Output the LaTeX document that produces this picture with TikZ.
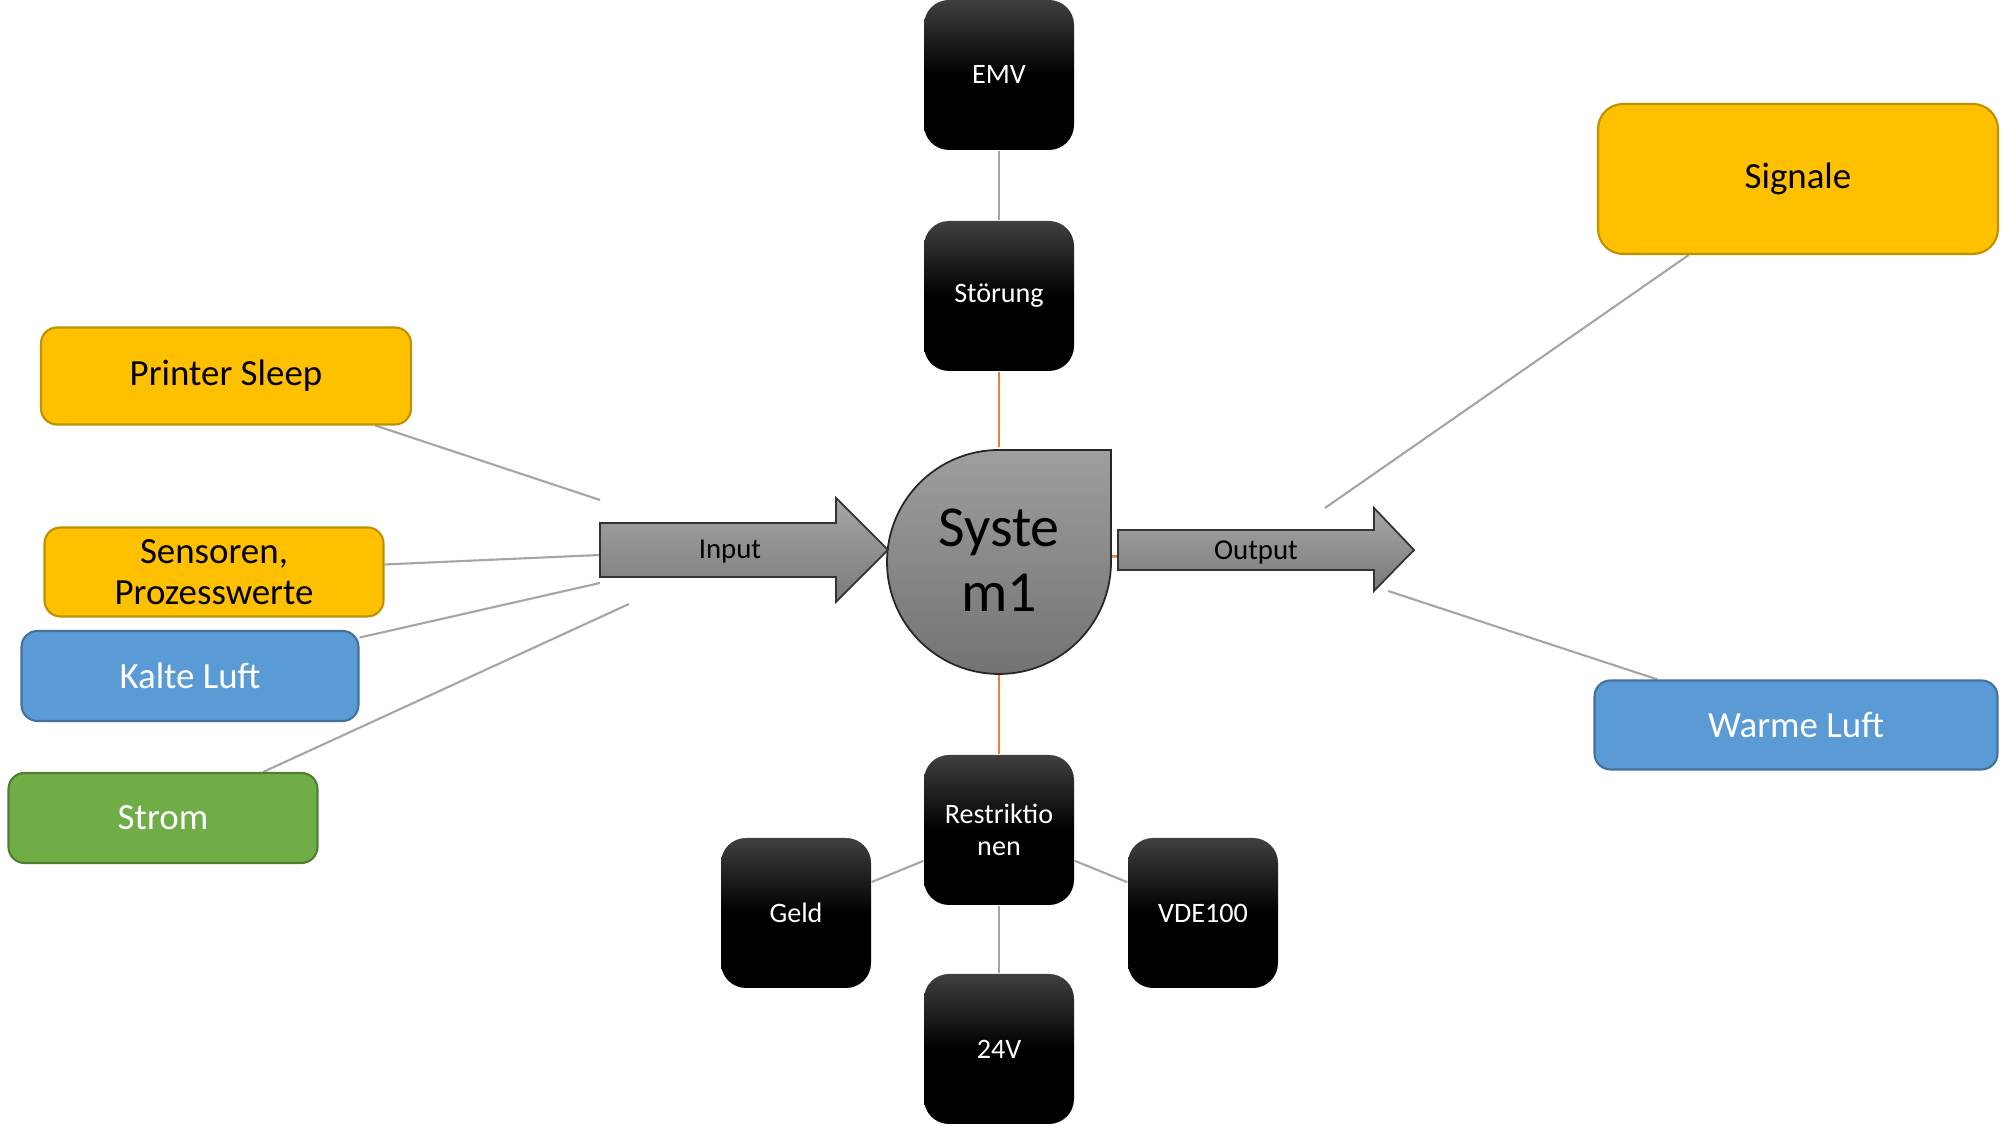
\documentclass[tikz,border=0pt]{standalone}
\usepackage{fontspec}
\setmainfont{Carlito}
\usetikzlibrary{positioning, backgrounds, calc}

\definecolor{boxyellow}{HTML}{FFC000}
\definecolor{yellowline}{HTML}{BF9000}
\definecolor{boxblue}{HTML}{5B9BD5}
\definecolor{blueline}{HTML}{41719C}
\definecolor{boxgreen}{HTML}{70AD47}
\definecolor{greenline}{HTML}{507E32}
\definecolor{linkgray}{HTML}{A5A5A5}
\definecolor{linkorange}{HTML}{ED7D31}

\begin{document}
\begin{tikzpicture}[x=0.1mm, y=0.1mm,
    blackbox/.style={rectangle, rounded corners=0.25cm, minimum width=1.5cm, minimum height=1.5cm, top color=black!75, bottom color=black, middle color=black, text=white, align=center, font=\fontsize{8}{9}\selectfont},
    infobox/.style={rectangle, rounded corners=0.16cm, line width=0.6pt, inner sep=1pt, align=center, font=\fontsize{10.5}{11.6}\selectfont},
    yellowbox/.style={infobox, fill=boxyellow, draw=yellowline, text=black},
    bluebox/.style={infobox, fill=boxblue, draw=blueline, text=white},
    greenbox/.style={infobox, fill=boxgreen, draw=greenline, text=white},
    systext/.style={circle, minimum size=2.24cm, inner sep=0pt, align=center, font=\fontsize{16.5}{18.5}\selectfont},
    arrowtext/.style={inner sep=1pt, font=\fontsize{8.2}{10}\selectfont},
    sysbody/.style={draw=black!85, line width=0.5pt, top color=black!38, bottom color=black!55},
    bigarrow/.style={draw=black!80, line width=0.5pt, top color=black!35, bottom color=black!52},
    graylink/.style={draw=linkgray, line width=0.6pt},
    orangelink/.style={draw=linkorange, line width=0.7pt}
]
\useasboundingbox (0,0) rectangle (2001,1126);

% inputs
\node[yellowbox, minimum width=3.7cm, minimum height=0.97cm] (sleep) at (226,750) {Printer Sleep};
\node[yellowbox, minimum width=3.39cm, minimum height=0.89cm] (sensors) at (214,554) {Sensoren,\\Prozesswerte};
\node[bluebox, minimum width=3.37cm, minimum height=0.9cm] (cold) at (190,450) {Kalte Luft};
\node[greenbox, minimum width=3.09cm, minimum height=0.9cm] (power) at (163,308) {Strom};

% outputs
\node[yellowbox, minimum width=4.0cm, minimum height=1.5cm, rounded corners=0.25cm] (signals) at (1798,947) {Signale};
\node[bluebox, minimum width=4.03cm, minimum height=0.89cm] (warm) at (1796,401) {Warme Luft};

% disturbance and restrictions
\node[blackbox] (emv) at (999,1051) {EMV};
\node[blackbox] (fault) at (999,830) {Störung};
\node[blackbox] (limits) at (999,296) {Restriktio\\nen};
\node[blackbox] (volt) at (999,77) {24V};
\node[blackbox] (money) at (796,213) {Geld};
\node[blackbox] (vde) at (1203,213) {VDE100};

% system
\node[systext] (system) at (999,566) {Syste\\m1};
\node[arrowtext] (input) at (730,574) {Input};
\node[arrowtext] (output) at (1256,574) {Output};

\coordinate (in1) at (600,626);
\coordinate (in2) at (600,571);
\coordinate (in3) at (600,543);
\coordinate (in4) at (629,522);
\coordinate (out1) at (1325,618);
\coordinate (out2) at (1388,535);

\begin{scope}[on background layer]
\draw[graylink] (sleep) -- (in1);
\draw[graylink] (sensors) -- (in2);
\draw[graylink] (cold) -- (in3);
\draw[graylink] (power) -- (in4);
\draw[graylink] (signals) -- (out1);
\draw[graylink] (warm) -- (out2);
\draw[graylink] (emv) -- (fault);
\draw[graylink] (limits) -- (money);
\draw[graylink] (limits) -- (vde);
\draw[graylink] (limits) -- (volt);
\draw[orangelink] (fault) -- (system);
\draw[orangelink] (system) -- (limits);
\draw[orangelink] (system) -- (output);

\draw[sysbody] (999,676) -- (1111,676) -- (1111,564) arc[start angle=0, end angle=-270, radius=1.12cm] -- cycle;
\draw[bigarrow] (600,549) -- (836,549) -- (836,524) -- (888,576) -- (836,628) -- (836,603) -- (600,603) -- cycle;
\draw[bigarrow] (1118,556) -- (1374,556) -- (1374,535) -- (1414,576) -- (1374,618) -- (1374,596) -- (1118,596) -- cycle;
\end{scope}
\end{tikzpicture}
\end{document}
